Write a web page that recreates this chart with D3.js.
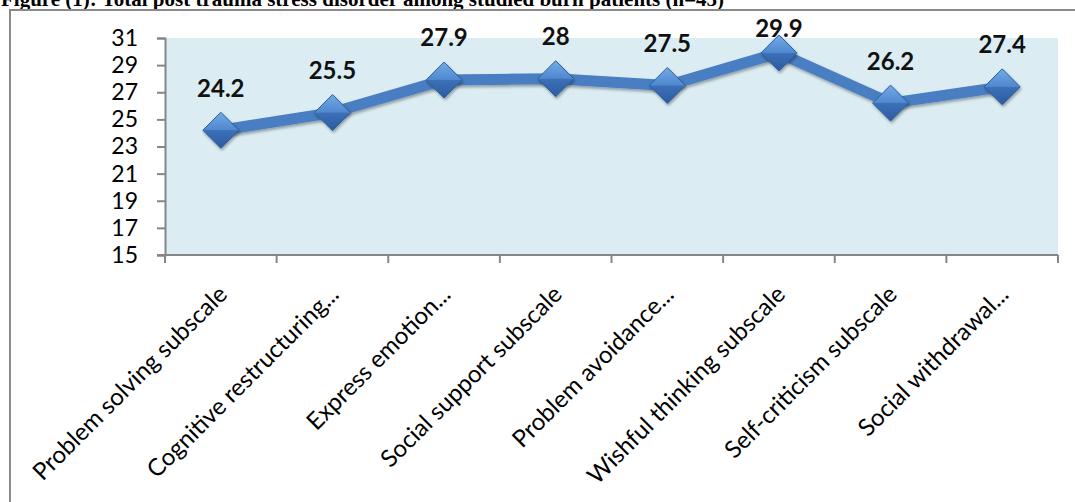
<!DOCTYPE html>
<html>
<head>
<meta charset="utf-8">
<script src="https://cdn.jsdelivr.net/npm/d3@7"></script>
<style>
  html, body { margin: 0; padding: 0; background: #fff; }
  svg { display: block; }
</style>
</head>
<body>
<svg width="1075" height="502"></svg>
<script>
const TITLE = 'Figure (1): Total post trauma stress disorder among studied burn patients (n=45)';
const categories = [
  'Problem solving subscale',
  'Cognitive restructuring...',
  'Express emotion...',
  'Social support subscale',
  'Problem avoidance...',
  'Wishful thinking subscale',
  'Self-criticism subscale',
  'Social withdrawal...'
];
const values = [24.2, 25.5, 27.9, 28, 27.5, 29.9, 26.2, 27.4];
const yTicks = [15, 17, 19, 21, 23, 25, 27, 29, 31];

const svg = d3.select('svg');
const plot = { left: 165, right: 1058, top: 38, bottom: 255 };

const x = d3.scaleBand().domain(categories).range([plot.left, plot.right]);
const y = d3.scaleLinear().domain([15, 31]).range([plot.bottom, plot.top]);

const defs = svg.append('defs');
const grad = defs.append('linearGradient')
  .attr('id', 'diamondFill')
  .attr('x1', 0).attr('y1', 0).attr('x2', 0).attr('y2', 1);
grad.append('stop').attr('offset', '0%').attr('stop-color', '#74aae6');
grad.append('stop').attr('offset', '49%').attr('stop-color', '#4f88d0');
grad.append('stop').attr('offset', '51%').attr('stop-color', '#3c70b8');
grad.append('stop').attr('offset', '100%').attr('stop-color', '#2c5c9f');

const shadow = defs.append('filter').attr('id', 'shadow')
  .attr('x', '-30%').attr('y', '-30%').attr('width', '160%').attr('height', '160%');
shadow.append('feDropShadow')
  .attr('dx', 1).attr('dy', 2).attr('stdDeviation', 1.5)
  .attr('flood-color', '#000').attr('flood-opacity', 0.35);

// title (cut off at the top, as in the scan)
svg.append('text')
  .attr('x', 1).attr('y', 6)
  .attr('font-family', '"Liberation Serif", "Times New Roman", serif')
  .attr('font-weight', 'bold')
  .attr('font-size', 21)
  .attr('fill', '#000')
  .text(TITLE);

// outer chart frame
svg.append('rect')
  .attr('x', 10).attr('y', 10)
  .attr('width', 1200).attr('height', 700)
  .attr('fill', '#fff')
  .attr('stroke', '#8a8a8a')
  .attr('stroke-width', 2);

// plot area background
svg.append('rect')
  .attr('x', plot.left).attr('y', plot.top)
  .attr('width', plot.right - plot.left)
  .attr('height', plot.bottom - plot.top)
  .attr('fill', '#dbedf3');

// y axis
const yAxis = svg.append('g')
  .attr('transform', `translate(${plot.left},0)`)
  .call(d3.axisLeft(y).tickValues(yTicks).tickSize(8).tickPadding(19));
yAxis.selectAll('text')
  .attr('font-family', 'Lato, "Open Sans", sans-serif')
  .attr('font-size', 23)
  .attr('fill', '#000');

// x axis, ticks at category boundaries
const xAxis = svg.append('g')
  .attr('transform', `translate(0,${plot.bottom})`)
  .call(d3.axisBottom(x).tickSize(0).tickFormat(''));
const bounds = categories.map(c => x(c)).concat([plot.right]);
xAxis.selectAll('.boundary')
  .data(bounds)
  .enter()
  .append('line')
  .attr('class', 'boundary')
  .attr('x1', d => d).attr('x2', d => d)
  .attr('y1', 0).attr('y2', 8);
[yAxis, xAxis].forEach(g => {
  g.select('.domain').attr('stroke', '#868686').attr('stroke-width', 2);
  g.selectAll('line').attr('stroke', '#868686').attr('stroke-width', 2);
});
xAxis.select('.domain').attr('d', `M${plot.left - 8},0H${plot.right}`);

// rotated category labels
svg.append('g')
  .selectAll('text')
  .data(categories)
  .enter()
  .append('text')
  .attr('transform', d => `translate(${x(d) + x.bandwidth() / 2 - 4},${plot.bottom + 29}) rotate(-45)`)
  .attr('text-anchor', 'end')
  .attr('dy', '0.7em')
  .attr('font-family', 'Lato, "Open Sans", sans-serif')
  .attr('font-size', 24)
  .attr('fill', '#000')
  .text(d => d);

const cx = (d, i) => x(categories[i]) + x.bandwidth() / 2;

// series line
svg.append('path')
  .datum(values)
  .attr('fill', 'none')
  .attr('stroke', '#4a7ec2')
  .attr('stroke-width', 11)
  .attr('stroke-linejoin', 'round')
  .attr('filter', 'url(#shadow)')
  .attr('d', d3.line().x(cx).y(d => y(d)));

// diamond markers
const half = 18;
svg.append('g')
  .selectAll('path')
  .data(values)
  .enter()
  .append('path')
  .attr('transform', (d, i) => `translate(${cx(d, i)},${y(d)})`)
  .attr('d', `M0,${-half}L${half},0L0,${half}L${-half},0Z`)
  .attr('fill', 'url(#diamondFill)')
  .attr('stroke', '#2f5f9e')
  .attr('stroke-width', 1)
  .attr('filter', 'url(#shadow)');

// data labels
svg.append('g')
  .selectAll('text')
  .data(values)
  .enter()
  .append('text')
  .attr('x', cx)
  .attr('y', d => Math.max(y(d) - 42, 29))
  .attr('dy', '0.35em')
  .attr('text-anchor', 'middle')
  .attr('font-family', 'Lato, "Open Sans", sans-serif')
  .attr('font-weight', 'bold')
  .attr('font-size', 24)
  .attr('fill', '#111')
  .text(d => d);
</script>
</body>
</html>
